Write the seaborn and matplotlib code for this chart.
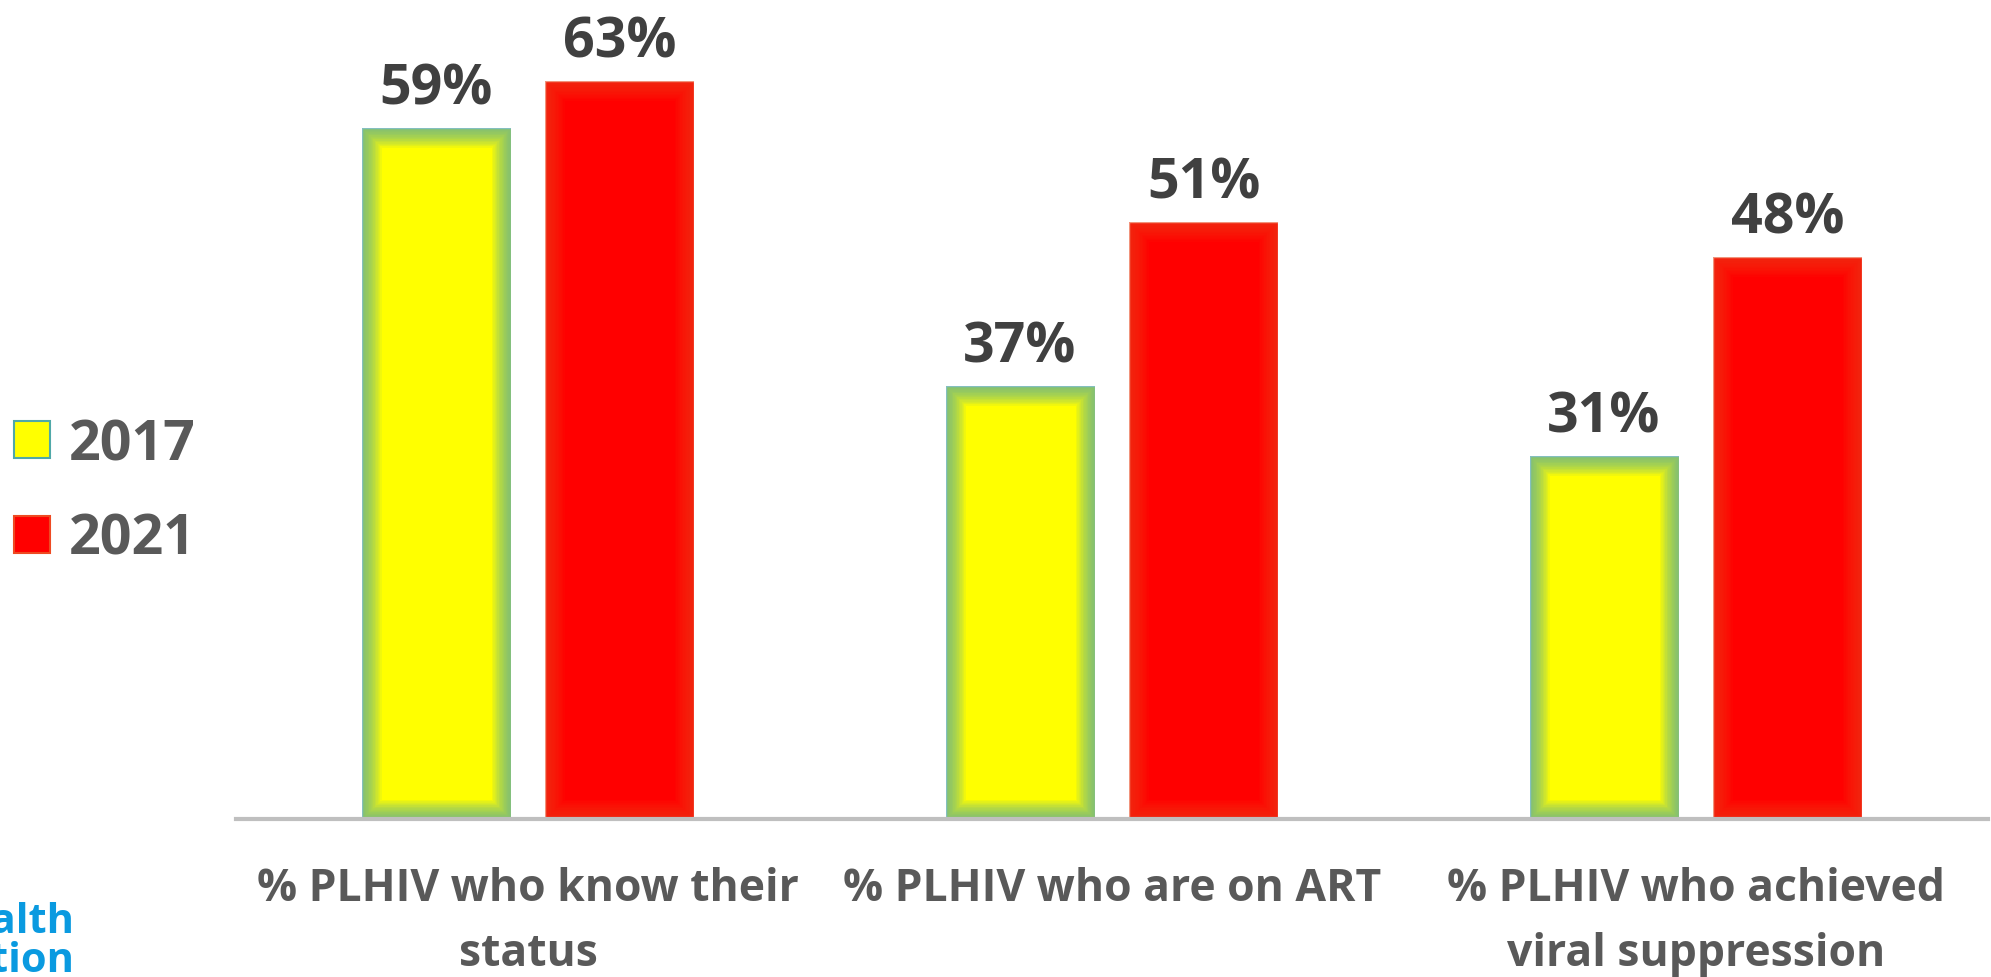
import pandas as pd
import matplotlib.pyplot as plt
import seaborn as sns
from matplotlib.patches import Rectangle

# Chart data
categories = ['% PLHIV who know their\nstatus',
              '% PLHIV who are on ART',
              '% PLHIV who achieved\nviral suppression']
years = ['2017', '2021']
values_2017 = [59, 37, 31]
values_2021 = [63, 51, 48]

data = pd.DataFrame({
    'category': categories * 2,
    'year': [years[0]] * 3 + [years[1]] * 3,
    'value': values_2017 + values_2021,
})

sns.set_style('white')
plt.rcParams['font.family'] = ['Open Sans', 'DejaVu Sans']

fig = plt.figure(figsize=(19.91, 9.78), dpi=100)
ax = fig.add_axes([236 / 1991, 158 / 978, 1752 / 1991, 820 / 978])

palette = {'2017': '#FFFF00', '2021': '#FF0000'}
glow = {'2017': '#4FA8A8', '2021': '#EE4A22'}
glow_alpha = {'2017': 0.08, '2021': 0.06}
sns.barplot(data=data, x='category', y='value', hue='year', palette=palette,
            width=0.63, gap=0.19, saturation=1, ax=ax, legend=False)

# soft inner glow along the bar edges
for cont, yr in zip(ax.containers, years):
    for bar in cont:
        for lw in range(28, 0, -2):
            r = Rectangle((bar.get_x(), bar.get_y()), bar.get_width(), bar.get_height(),
                          fill=False, edgecolor=glow[yr], lw=lw, alpha=glow_alpha[yr],
                          zorder=bar.get_zorder() + 0.1)
            ax.add_patch(r)
            r.set_clip_path(bar)
    ax.bar_label(cont, fmt='%d%%', padding=8, fontsize=40, fontweight='bold', color='#404040')

ax.set_xlim(-0.5, 2.5)
ax.set_ylim(0, 70)
ax.set_xlabel('')
ax.set_ylabel('')
ax.set_yticks([])
for s in ['top', 'right', 'left']:
    ax.spines[s].set_visible(False)
ax.spines['bottom'].set_color('#BFBFBF')
ax.spines['bottom'].set_linewidth(3)
ax.tick_params(axis='x', length=0, pad=34, labelsize=32, labelcolor='#595959')
for lab in ax.get_xticklabels():
    lab.set_fontweight('bold')
    lab.set_linespacing(1.58)

# legend on the left
handles = [Rectangle((0, 0), 1, 1, facecolor=palette[y], edgecolor=glow[y], lw=1.5) for y in years]
leg = fig.legend(handles, years, loc='center left', bbox_to_anchor=(14 / 1991, 0.496),
                 frameon=False, fontsize=40, handlelength=0.65, handleheight=0.65,
                 handletextpad=0.33, labelspacing=0.71, borderpad=0, borderaxespad=0)
for t in leg.get_texts():
    t.set_color('#595959')
    t.set_fontweight('bold')

# cropped logo text at bottom-left
fig.text(74 / 1991, 1 - 972 / 978, 'ealth\ntion', ha='right', va='baseline',
         fontsize=30, fontweight='bold', color='#0A9AE0', linespacing=0.95)

fig.savefig('out.png', dpi=100)
